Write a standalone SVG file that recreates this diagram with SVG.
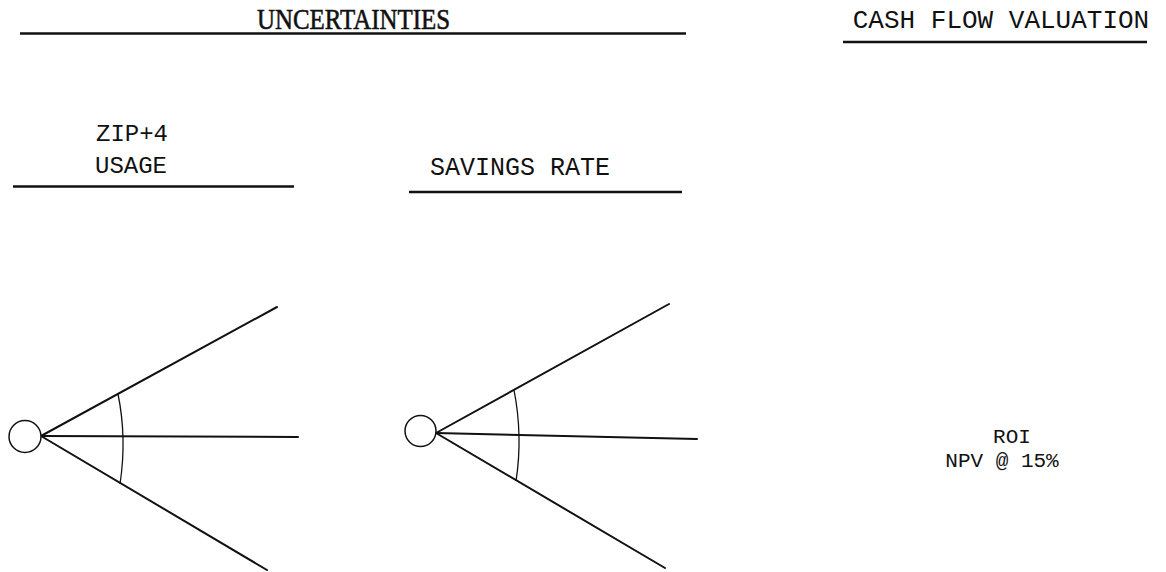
<svg xmlns="http://www.w3.org/2000/svg" width="1166" height="572" viewBox="0 0 1166 572">
<style>
.mono{font-family:"Liberation Mono","DejaVu Sans Mono",monospace;fill:#111}
.serif{font-family:"Liberation Serif","DejaVu Serif",serif;fill:#111;stroke:#111;stroke-width:0.6}
.rule{stroke:#111;stroke-width:2.6;fill:none}
.branch{stroke:#111;stroke-width:2;fill:none;stroke-linecap:round}
.arc{stroke:#111;stroke-width:1.3;fill:none}
.chance{stroke:#111;stroke-width:1.5;fill:#fff}
</style>
<rect width="1166" height="572" fill="#fff"/>
<g id="header-uncertainties">
<text class="serif" x="257" y="29" font-size="30" textLength="193" lengthAdjust="spacingAndGlyphs">UNCERTAINTIES</text>
<line class="rule" x1="20" y1="33.5" x2="686" y2="33.5"/>
</g>
<g id="header-cashflow">
<text class="mono" x="1001" y="28" font-size="26" text-anchor="middle">CASH FLOW VALUATION</text>
<line class="rule" x1="843" y1="42" x2="1147" y2="42" stroke-width="2"/>
</g>
<g id="label-zip4">
<text class="mono" x="132" y="141" font-size="24" text-anchor="middle">ZIP+4</text>
<text class="mono" x="131" y="173" font-size="24" text-anchor="middle">USAGE</text>
<line class="rule" x1="13" y1="186.5" x2="294" y2="186.5" stroke-width="2.2"/>
</g>
<g id="label-savings">
<text class="mono" x="520" y="175" font-size="25" text-anchor="middle">SAVINGS RATE</text>
<line class="rule" x1="409" y1="192" x2="682" y2="192" stroke-width="2"/>
</g>
<g id="connectors">
<line class="branch" x1="41" y1="436" x2="277" y2="307"/>
<line class="branch" x1="41" y1="436" x2="298" y2="437" stroke-width="2.5"/>
<line class="branch" x1="41" y1="436" x2="267" y2="570"/>
<path class="arc" d="M118,394 Q127,438 120,484"/>
<line class="branch" x1="436" y1="433" x2="669" y2="304"/>
<line class="branch" x1="436" y1="433" x2="697" y2="439" stroke-width="2.5"/>
<line class="branch" x1="436" y1="433" x2="665" y2="568"/>
<path class="arc" d="M514,390 Q523,436 516,481"/>
</g>
<g id="node-zip4">
<circle class="chance" cx="25" cy="436.5" r="16"/>
</g>
<g id="node-savings">
<circle class="chance" cx="420.5" cy="431" r="15.5"/>
</g>
<g id="node-roi">
<text class="mono" x="1012" y="443" font-size="21" text-anchor="middle">ROI</text>
<text class="mono" x="1002" y="467" font-size="21" text-anchor="middle">NPV @ 15%</text>
</g>
</svg>
